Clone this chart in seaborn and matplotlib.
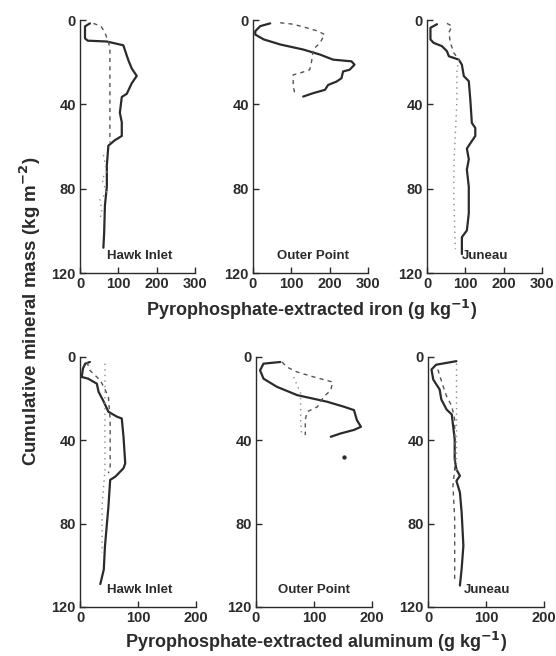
import matplotlib
matplotlib.use("Agg")
import matplotlib.pyplot as plt
import seaborn as sns

# ---- data ----
sites = ["Hawk Inlet", "Outer Point", "Juneau"]

# iron, solid profiles: (x = g/kg, y = cumulative mass kg/m2)
fe_hawk_solid_x = [26, 13, 13, 20, 70, 113, 126, 135, 148, 135, 122, 109, 104, 109, 109, 91, 74, 70, 70, 65, 63, 61]
fe_hawk_solid_y = [1.6, 3, 8.7, 9.8, 10.2, 12, 19, 23, 26.5, 30, 35, 36.5, 44, 48.5, 55, 57, 59.6, 69, 79, 88, 101, 108]
fe_hawk_dash_x = [35, 55, 65, 75, 78, 78, 78]
fe_hawk_dash_y = [1.6, 3, 6, 11, 13.5, 35, 58]
fe_hawk_dot_x = [61, 70, 57, 70, 52, 57, 52]
fe_hawk_dot_y = [64, 72, 75.5, 82, 85, 90, 94.6]

fe_outer_solid_x = [45, 19, 6, 6, 28, 71, 131, 175, 209, 257, 265, 252, 235, 231, 218, 196, 188, 157, 131]
fe_outer_solid_y = [1.6, 2.9, 5.3, 6.9, 9.2, 11.6, 14, 16.4, 18.8, 19.6, 21.2, 23.6, 24.4, 27.6, 29.2, 30.8, 33.1, 34.7, 36.3]
fe_outer_dash_x = [71, 105, 140, 170, 187, 175, 157, 153, 148, 127, 105, 105, 110]
fe_outer_dash_y = [1.3, 2, 3.7, 5.3, 6.9, 10.8, 14, 19.6, 23.6, 24.9, 26, 31.6, 35.5]
fe_outer_dot_x = []
fe_outer_dot_y = []

fe_juneau_solid_x = [26, 9, 9, 17, 39, 52, 57, 83, 91, 96, 109, 113, 117, 126, 126, 113, 104, 109, 104, 109, 109, 104, 91, 91]
fe_juneau_solid_y = [2, 3.7, 9.2, 10.8, 12.4, 14.8, 17.2, 18.8, 21.2, 26.6, 29, 37.8, 48.8, 51.2, 55, 58.5, 61, 66, 71, 79, 91.8, 99.8, 103, 111]
fe_juneau_dash_x = [52, 65, 57, 61, 70, 83]
fe_juneau_dash_y = [1.6, 2.9, 6, 10.8, 15.6, 18.8]
fe_juneau_dot_x = [83, 78, 78, 74, 70, 70, 74]
fe_juneau_dot_y = [18.8, 24.4, 38, 54, 69.6, 85.5, 108.7]

# aluminum
al_hawk_solid_x = [17, 9, 5, 3, 14, 29, 32, 41, 49, 64, 72, 75, 78, 75, 61, 52, 49, 46, 43, 41, 35]
al_hawk_solid_y = [2.4, 3.2, 5.6, 9.6, 10.4, 12.8, 16.7, 21.5, 26.3, 28.7, 29.5, 38.3, 51, 53.4, 57.4, 59, 71.8, 81.3, 91, 102, 109]
al_hawk_dash_x = [12, 17, 35, 41, 49, 52, 52, 49]
al_hawk_dash_y = [2.4, 6.4, 11.2, 14.4, 19, 30.3, 52.6, 55.8]
al_hawk_dot_x = [43, 43, 43, 38, 38]
al_hawk_dot_y = [3.2, 30, 54, 71.8, 94]

al_outer_solid_x = [42, 13, 7, 13, 36, 71, 123, 152, 169, 174, 181, 169, 146, 129]
al_outer_solid_y = [2.4, 3.2, 6.4, 10.4, 14.3, 18.3, 21.5, 23.9, 25.5, 30.3, 33.5, 35, 36.7, 38.3]
al_outer_dash_x = [45, 53, 71, 100, 132, 129, 117, 106, 88, 85, 85]
al_outer_dash_y = [2.4, 4.8, 7.2, 9.6, 12, 16, 19, 23.9, 26.3, 30.3, 37.5]
al_outer_dot_x = [65, 77, 77, 79]
al_outer_dot_y = [9.6, 17.5, 30.3, 38.3]
al_outer_point_x = [152]
al_outer_point_y = [47.9]

al_juneau_solid_x = [49, 14, 6, 9, 20, 23, 32, 41, 43, 46, 46, 49, 55, 49, 55, 58, 61, 58, 55]
al_juneau_solid_y = [2, 3.7, 6, 10.8, 15.6, 20.4, 25.2, 27.6, 32.4, 39.5, 49, 54, 57, 59.5, 65, 74.6, 90.6, 101.7, 109.7]
al_juneau_dash_x = [17, 26, 32, 41, 46, 46, 43, 46, 46]
al_juneau_dash_y = [6, 14, 18.8, 23.6, 30, 54, 61.9, 77.8, 108]
al_juneau_dot_x = [49, 49, 49]
al_juneau_dot_y = [2.9, 30, 55]

fe_profiles = [
    (fe_hawk_solid_x, fe_hawk_solid_y, fe_hawk_dash_x, fe_hawk_dash_y, fe_hawk_dot_x, fe_hawk_dot_y),
    (fe_outer_solid_x, fe_outer_solid_y, fe_outer_dash_x, fe_outer_dash_y, fe_outer_dot_x, fe_outer_dot_y),
    (fe_juneau_solid_x, fe_juneau_solid_y, fe_juneau_dash_x, fe_juneau_dash_y, fe_juneau_dot_x, fe_juneau_dot_y),
]
al_profiles = [
    (al_hawk_solid_x, al_hawk_solid_y, al_hawk_dash_x, al_hawk_dash_y, al_hawk_dot_x, al_hawk_dot_y),
    (al_outer_solid_x, al_outer_solid_y, al_outer_dash_x, al_outer_dash_y, al_outer_dot_x, al_outer_dot_y),
    (al_juneau_solid_x, al_juneau_solid_y, al_juneau_dash_x, al_juneau_dash_y, al_juneau_dot_x, al_juneau_dot_y),
]

# ---- style ----
sns.set_style("ticks")
plt.rcParams["font.family"] = ["Liberation Sans", "DejaVu Sans"]
plt.rcParams["font.weight"] = "bold"
ink = "#2b2b2b"

fig = plt.figure(figsize=(5.56, 6.56), dpi=100)

top_left = [0.1439, 0.4550, 0.7680]
bot_left = [0.1439, 0.4604, 0.7698]
fe_label_x = [70, 63, 91]
al_label_x = [46, 38, 61]


def draw_panel(ax, prof, xmax, xticks, site, lx):
    sx, sy, dx, dy, ox, oy = prof
    sns.lineplot(x=sx, y=sy, sort=False, estimator=None, ax=ax, color=ink, lw=1.6)
    if dx:
        sns.lineplot(x=dx, y=dy, sort=False, estimator=None, ax=ax, color="#555555",
                     lw=1.0, linestyle=(0, (3, 3)))
    if ox:
        sns.lineplot(x=ox, y=oy, sort=False, estimator=None, ax=ax, color="#8a8a8a",
                     lw=1.0, linestyle=(0, (1, 3)))
    ax.set_xlim(0, xmax)
    ax.set_ylim(120, 0)
    ax.set_xticks(xticks)
    ax.set_yticks([0, 40, 80, 120])
    ax.tick_params(direction="in", length=4, width=1, colors=ink, labelsize=10.5, pad=3)
    for lab in ax.get_xticklabels() + ax.get_yticklabels():
        lab.set_fontweight("bold")
    sns.despine(ax=ax)
    for s in ["left", "bottom"]:
        ax.spines[s].set_color(ink)
        ax.spines[s].set_linewidth(1.0)
    ax.text(lx, 112, site, fontsize=9.5, color=ink, va="center", ha="left")
    ax.set_xlabel("")
    ax.set_ylabel("")


for i in range(3):
    ax = fig.add_axes([top_left[i], 0.5838, 0.2068, 0.3857])
    draw_panel(ax, fe_profiles[i], 300, [0, 100, 200, 300], sites[i], fe_label_x[i])

for i in range(3):
    ax = fig.add_axes([bot_left[i], 0.0747, 0.2086, 0.3811])
    draw_panel(ax, al_profiles[i], 200, [0, 100, 200], sites[i], al_label_x[i])
    if i == 1:
        sns.scatterplot(x=al_outer_point_x, y=al_outer_point_y, ax=ax, color=ink, s=8,
                        edgecolor=ink)

fig.text(0.561, 0.528, "Pyrophosphate-extracted iron (g kg$^{-1}$)", ha="center", va="center",
         fontsize=13, color=ink)
fig.text(0.568, 0.021, "Pyrophosphate-extracted aluminum (g kg$^{-1}$)", ha="center", va="center",
         fontsize=13, color=ink)
fig.text(0.055, 0.526, "Cumulative mineral mass (kg m$^{-2}$)", ha="center", va="center",
         rotation=90, fontsize=13.5, color=ink)

fig.savefig("out.png", dpi=100)
